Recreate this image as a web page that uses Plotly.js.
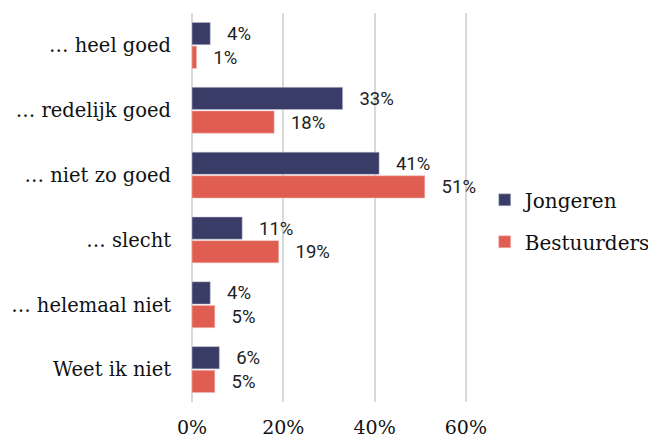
<!DOCTYPE html>
<html>
<head>
<meta charset="utf-8">
<script src="https://cdn.plot.ly/plotly-3.0.1.min.js"></script>
<style>html,body{margin:0;padding:0;background:#fff;}#chart{width:648px;height:439px;}</style>
</head>
<body>
<div id="chart"></div>
<script>
const categories = ["… heel goed", "… redelijk goed", "… niet zo goed", "… slecht", "… helemaal niet", "Weet ik niet"];
const seriesNames = ["Jongeren", "Bestuurders"];
const jongeren = [4, 33, 41, 11, 4, 6];
const bestuurders = [1, 18, 51, 19, 5, 5];
const tickValues = [0, 20, 40, 60];
const tickLabels = ["0%", "20%", "40%", "60%"];

const labelFont = {family: "Roboto, sans-serif", size: 20, color: "#222"};
const pad = "\u00a0\u00a0\u00a0";

const traces = [
  {type: "bar", orientation: "h", name: seriesNames[0], legendgroup: "a",
   y: categories, x: jongeren,
   marker: {color: "#393c67", line: {color: "#c8c9d8", width: 0.5}},
   text: jongeren.map(v => pad + v + "%"), textposition: "outside",
   textfont: labelFont, cliponaxis: false, hoverinfo: "none"},
  {type: "bar", orientation: "h", name: seriesNames[1], legendgroup: "b",
   y: categories, x: bestuurders,
   marker: {color: "#e05d52", line: {color: "#f2c0bb", width: 0.5}},
   text: bestuurders.map(v => pad + v + "%"), textposition: "outside",
   textfont: labelFont, cliponaxis: false, hoverinfo: "none"}
];

const layout = {
  width: 648, height: 439,
  margin: {l: 192, r: 173, t: 13, b: 37},
  paper_bgcolor: "#fff", plot_bgcolor: "#fff",
  barmode: "group", bargap: 0.27, bargroupgap: 0.06,
  showlegend: true,
  legend: {xref: "container", x: 0.748, xanchor: "left",
           yref: "container", y: 0.497, yanchor: "middle",
           font: {family: "DejaVu Serif, serif", size: 20, color: "#111"},
           traceorder: "grouped", tracegroupgap: 13, itemwidth: 30,
           bgcolor: "rgba(0,0,0,0)"},
  xaxis: {range: [0, 62], tickvals: tickValues, ticktext: tickLabels,
          showgrid: true, gridcolor: "#d9d9d9", gridwidth: 2,
          zeroline: true, zerolinecolor: "#d9d9d9", zerolinewidth: 2,
          showline: false, ticks: "outside", ticklen: 8, tickcolor: "rgba(0,0,0,0)",
          tickfont: {family: "DejaVu Serif, serif", size: 19, color: "#111"}},
  yaxis: {autorange: "reversed", showgrid: false, zeroline: false, showline: false,
          ticks: "outside", ticklen: 16, tickcolor: "rgba(0,0,0,0)",
          tickfont: {family: "DejaVu Serif, serif", size: 19.5, color: "#111"}}
};

Plotly.newPlot("chart", traces, layout, {staticPlot: true, displayModeBar: false});
</script>
</body>
</html>
